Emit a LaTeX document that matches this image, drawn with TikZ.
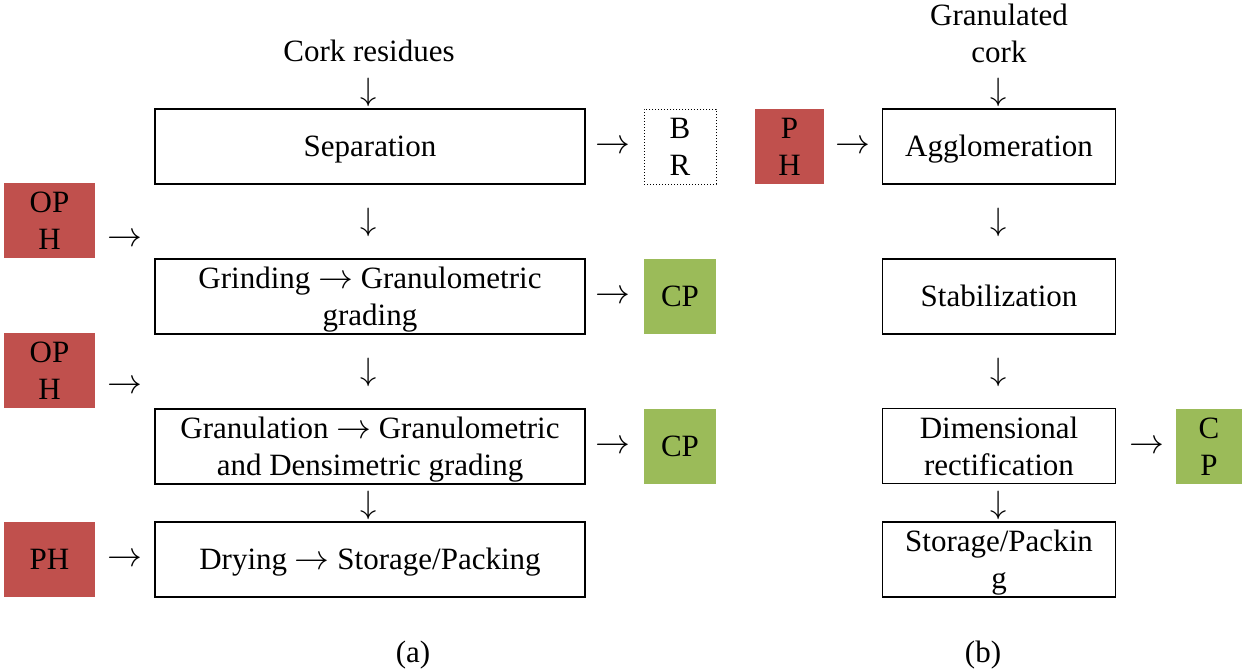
\documentclass[tikz,border=0pt]{standalone}
\usepackage{fontspec}
\setmainfont{Liberation Serif}
\definecolor{redbox}{HTML}{C0504D}
\definecolor{greenbox}{HTML}{9BBB59}
\newcommand{\myra}{\scalebox{1.4}{$\rightarrow$}}
\newcommand{\myda}{\scalebox{1.3}{$\downarrow$}}
\begin{document}
\begin{tikzpicture}[x=1pt,y=-1pt,
  every node/.style={font=\fontsize{31}{37}\selectfont, inner sep=0pt, align=center},
  one/.style={text height=28pt, text depth=8pt},
  two/.style={text height=64pt, text depth=6pt},
  box/.style={draw=black, line width=1.8pt, minimum height=75pt},
  wide/.style={box, minimum width=430pt},
  narrow/.style={box, minimum width=233pt},
  redb/.style={fill=redbox, minimum height=75pt},
  greenb/.style={fill=greenbox, minimum height=75pt, minimum width=72pt},
  dotbox/.style={draw=black, dotted, line width=1pt, minimum width=72pt, minimum height=75pt},
  glyph/.style={}]
\useasboundingbox (0,0) rectangle (1242,669);
% ---------- (a) ----------
\node[one] (cork) at (369,52) {Cork residues};
\node[glyph] (d0) at (369,92) {\myda};
\node[wide, one] (sep) at (370,146.5) {Separation};
\node[glyph] (r0) at (613,147) {\myra};
\node[dotbox, two] (br) at (680,146.5) {B\\R};
\node[redb, two, minimum width=91pt] (oph1) at (49.5,220.5) {OP\\H};
\node[glyph] (r1) at (125,240) {\myra};
\node[glyph] (d1) at (369,222) {\myda};
\node[wide, two] (grind) at (370,296.5) {Grinding \myra{} Granulometric\\grading};
\node[glyph] (r2) at (613,297) {\myra};
\node[greenb, one] (cp1) at (680,296.5) {CP};
\node[redb, two, minimum width=91pt] (oph2) at (49.5,370.5) {OP\\H};
\node[glyph] (r3) at (125,387) {\myra};
\node[glyph] (d2) at (369,372) {\myda};
\node[wide, two] (gran) at (370,446.5) {Granulation \myra{} Granulometric\\and Densimetric grading};
\node[glyph] (r4) at (613,447) {\myra};
\node[greenb, one] (cp2) at (680,446.5) {CP};
\node[glyph] (d3) at (369,505) {\myda};
\node[wide, one] (dry) at (370,559.5) {Drying \myra{} Storage/Packing};
\node[redb, one, minimum width=91pt] (ph1) at (49.5,559.5) {PH};
\node[glyph] (r5) at (125,560) {\myra};
\node[one] (la) at (413,652) {(a)};
% ---------- (b) ----------
\node[two] (gc) at (999,34) {Granulated\\cork};
\node[glyph] (d4) at (999,92) {\myda};
\node[redb, two, minimum width=69pt] (ph2) at (789.5,146.5) {P\\H};
\node[glyph] (r6) at (853,147) {\myra};
\node[narrow, one] (agg) at (999,146.5) {Agglomeration};
\node[glyph] (d5) at (999,222) {\myda};
\node[narrow, one] (stab) at (999,296.5) {Stabilization};
\node[glyph] (d6) at (999,372) {\myda};
\node[narrow, two] (dim) at (999,446) {Dimensional\\rectification};
\node[glyph] (r7) at (1147,447) {\myra};
\node[greenb, two, minimum width=66pt] (cp3) at (1209,446) {C\\P};
\node[glyph] (d7) at (999,505) {\myda};
\node[narrow, two] (stor) at (999,559.5) {Storage/Packin\\g};
\node[one] (lb) at (983,652) {(b)};
\end{tikzpicture}
\end{document}
